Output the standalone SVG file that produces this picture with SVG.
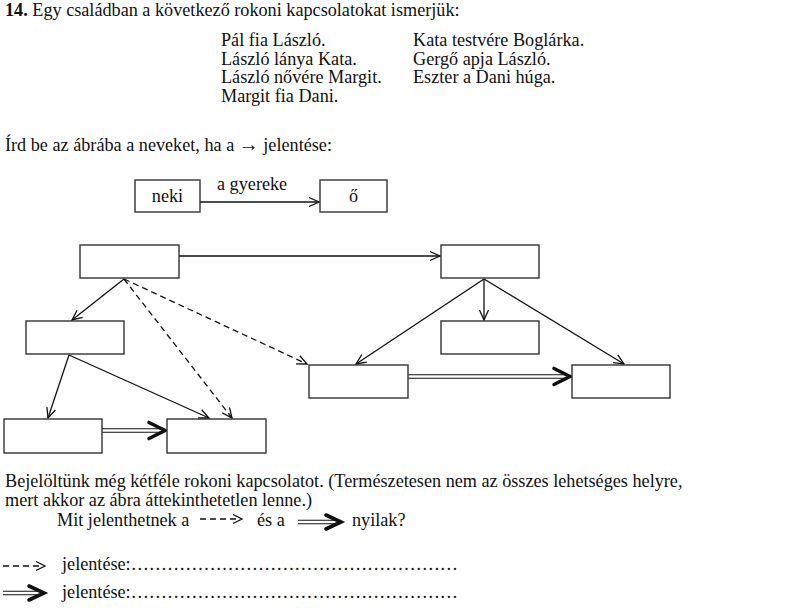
<svg xmlns="http://www.w3.org/2000/svg" width="798" height="611" viewBox="0 0 798 611">
<style>
text{font-family:"Liberation Serif","Times New Roman",serif;font-size:18.2px;fill:#111}
.box{fill:#fff;stroke:#333;stroke-width:1.4}
.ln{stroke:#111;stroke-width:1.3;fill:none}
.dash{stroke:#111;stroke-width:1.3;fill:none;stroke-dasharray:6,4}
.dbl{stroke:#111;stroke-width:1.1;fill:none}
.bold{stroke:#111;stroke-width:3.6;fill:none;stroke-linecap:round;stroke-linejoin:miter}
</style>
<defs>
<marker id="open" viewBox="0 0 12 12" markerWidth="12" markerHeight="12" refX="11" refY="6" orient="auto" markerUnits="userSpaceOnUse">
<path d="M1,1.5 L11,6 L1,10.5" fill="none" stroke="#111" stroke-width="1.3"/>
</marker>
</defs>
<rect width="798" height="611" fill="#fff"/>

<g id="header">
<text x="5" y="16"><tspan font-weight="bold">14.</tspan> Egy családban a következő rokoni kapcsolatokat ismerjük:</text>
<text x="221" y="46">Pál fia László.</text>
<text x="221" y="64.5">László lánya Kata.</text>
<text x="221" y="83">László nővére Margit.</text>
<text x="221" y="101.5">Margit fia Dani.</text>
<text x="413" y="46">Kata testvére Boglárka.</text>
<text x="413" y="64.5">Gergő apja László.</text>
<text x="413" y="83">Eszter a Dani húga.</text>
<text x="5" y="151">Írd be az ábrába a neveket, ha a  <tspan font-size="20px">→</tspan> jelentése:</text>
</g>

<g id="example">
<rect class="box" x="135" y="180" width="65" height="32"/>
<text x="167.5" y="202" text-anchor="middle">neki</text>
<rect class="box" x="320" y="180" width="67" height="32"/>
<text x="353.5" y="202" text-anchor="middle">ő</text>
<line class="ln" x1="200" y1="202" x2="319" y2="202" marker-end="url(#open)"/>
<text x="217" y="190">a gyereke</text>
</g>

<g id="connectors">
<line class="ln" x1="179" y1="256" x2="440" y2="256" marker-end="url(#open)"/>
<line class="ln" x1="124" y1="279" x2="72" y2="320" marker-end="url(#open)"/>
<line class="dash" x1="124" y1="279" x2="232" y2="418" marker-end="url(#open)"/>
<line class="dash" x1="124" y1="279" x2="307" y2="364" marker-end="url(#open)"/>
<line class="ln" x1="69" y1="355" x2="48" y2="418" marker-end="url(#open)"/>
<line class="ln" x1="69" y1="355" x2="209" y2="418" marker-end="url(#open)"/>
<line class="ln" x1="484" y1="279" x2="356" y2="364" marker-end="url(#open)"/>
<line class="ln" x1="484" y1="279" x2="484" y2="320" marker-end="url(#open)"/>
<line class="ln" x1="484" y1="279" x2="624" y2="364" marker-end="url(#open)"/>
<line class="dbl" x1="102" y1="428.8" x2="163" y2="428.8"/>
<line class="dbl" x1="102" y1="432.2" x2="163" y2="432.2"/>
<path class="bold" d="M149,422.5 L165,430.5 L149,438.5"/>
<line class="dbl" x1="408" y1="374.8" x2="568" y2="374.8"/>
<line class="dbl" x1="408" y1="378.2" x2="568" y2="378.2"/>
<path class="bold" d="M554,368.5 L570,376.5 L554,384.5"/>
</g>

<g id="nodeA"><rect class="box" x="80" y="245" width="99" height="33"/></g>
<g id="nodeB"><rect class="box" x="26" y="321" width="98" height="33"/></g>
<g id="nodeC"><rect class="box" x="4" y="419" width="98" height="34"/></g>
<g id="nodeD"><rect class="box" x="167" y="419" width="99" height="34"/></g>
<g id="nodeE"><rect class="box" x="309" y="365" width="99" height="33"/></g>
<g id="nodeF"><rect class="box" x="441" y="245" width="98" height="33"/></g>
<g id="nodeG"><rect class="box" x="441" y="321" width="98" height="33"/></g>
<g id="nodeH"><rect class="box" x="572" y="365" width="98" height="33"/></g>

<g id="footer">
<text x="5" y="487">Bejelöltünk még kétféle rokoni kapcsolatot. (Természetesen nem az összes lehetséges helyre,</text>
<text x="5" y="506">mert akkor az ábra áttekinthetetlen lenne.)</text>
<text x="57" y="526">Mit jelenthetnek a</text>
<path class="dash" d="M200,519 L240,519" stroke-dasharray="6,5"/>
<path class="ln" d="M233,514.5 L242,519 L233,523.5"/>
<text x="257" y="526">és a</text>
<line class="dbl" x1="298" y1="520.3" x2="337" y2="520.3"/>
<line class="dbl" x1="298" y1="523.7" x2="337" y2="523.7"/>
<path class="bold" d="M326,515 L341,522 L326,529"/>
<text x="352" y="526">nyilak?</text>
<path class="dash" d="M3,566 L43,566" stroke-dasharray="6,5"/>
<path class="ln" d="M36,561.5 L45,566 L36,570.5"/>
<text x="62" y="570">jelentése:………………………………………………</text>
<line class="dbl" x1="3" y1="591.3" x2="40" y2="591.3"/>
<line class="dbl" x1="3" y1="594.7" x2="40" y2="594.7"/>
<path class="bold" d="M29,586 L44,593 L29,600"/>
<text x="62" y="598">jelentése:………………………………………………</text>
</g>
</svg>
